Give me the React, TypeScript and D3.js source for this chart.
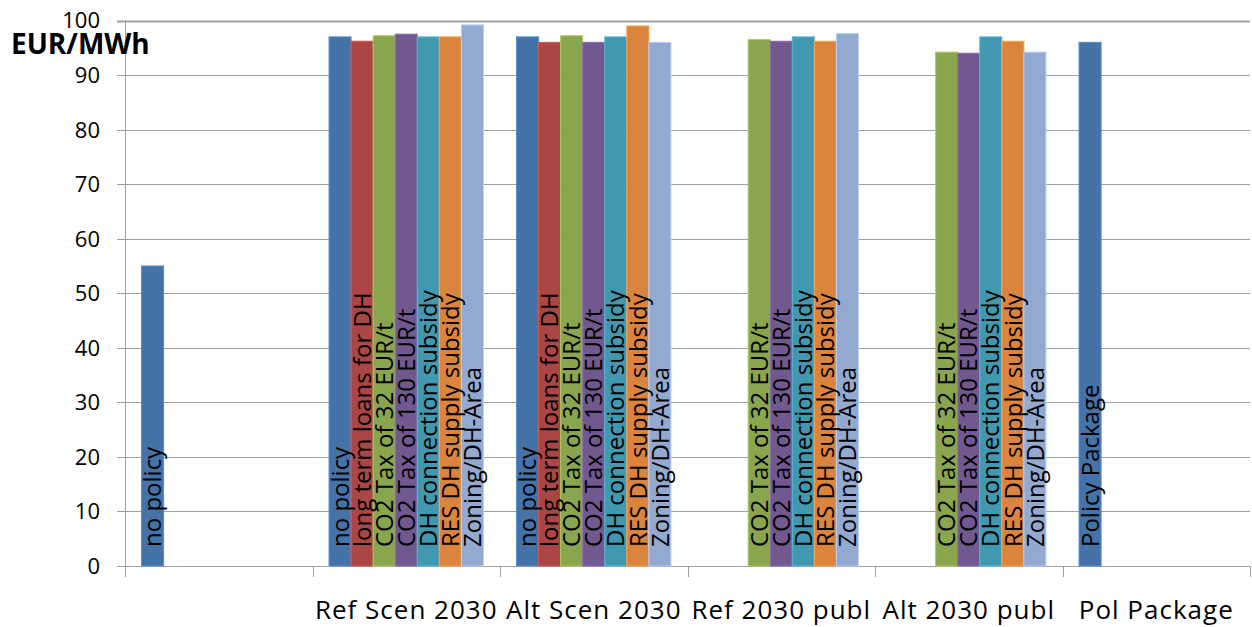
import React from "react";
import * as d3 from "d3";

const categories = ["", "Ref Scen 2030", "Alt Scen 2030", "Ref 2030 publ", "Alt 2030 publ", "Pol Package"];

const seriesNames = [
  "no policy",
  "long term loans for DH",
  "CO2 Tax of 32 EUR/t",
  "CO2 Tax of 130 EUR/t",
  "DH connection subsidy",
  "RES DH supply subsidy",
  "Zoning/DH-Area",
];

const noPolicy = [55, 97, 97, null, null, 96];
const longTermLoans = [null, 96.2, 96.0, null, null, null];
const co2Tax32 = [null, 97.2, 97.2, 96.5, 94.2, null];
const co2Tax130 = [null, 97.5, 96.0, 96.2, 94.0, null];
const dhConnection = [null, 97.0, 97.0, 97.0, 97.0, null];
const resDhSupply = [null, 97.0, 99.0, 96.2, 96.2, null];
const zoningDhArea = [null, 99.2, 96.0, 97.6, 94.2, null];

const seriesValues: (number | null)[][] = [
  noPolicy,
  longTermLoans,
  co2Tax32,
  co2Tax130,
  dhConnection,
  resDhSupply,
  zoningDhArea,
];

const polPackageCategory = "Pol Package";
const polPackageBarLabel = "Policy Package";

const yTicks = [0, 10, 20, 30, 40, 50, 60, 70, 80, 90, 100];
const yUnit = "EUR/MWh";

const colors = ["#4572A7", "#AA4643", "#89A54E", "#71588F", "#4198AF", "#DB843D", "#93A9CF"];

const W = 1252;
const H = 627;
const left = 125;
const right = 1250;
const top = 20.5;
const bottom = 566;
const FONT = "'Open Sans', 'Liberation Sans', sans-serif";

export default function App() {
  const x0 = d3.scaleBand<string>().domain(categories.map((c, i) => String(i))).range([left, right]).paddingInner(0).paddingOuter(0);
  const x1 = d3
    .scaleBand<string>()
    .domain(seriesNames)
    .range([0, x0.bandwidth()])
    .paddingInner(0)
    .paddingOuter(0.75);
  const y = d3.scaleLinear().domain([0, 100]).range([bottom, top]);

  const bw = x1.bandwidth();
  const boundaries = d3.range(categories.length + 1).map((i) => left + i * x0.step());

  return (
    <svg width={W} height={H} style={{ position: "absolute", left: 0, top: 0, background: "#fff" }} fontFamily={FONT}>
      {/* gridlines */}
      {yTicks.map((t) => (
        <line
          key={"g" + t}
          x1={left - 8}
          x2={right}
          y1={Math.round(y(t)) + 0.5}
          y2={Math.round(y(t)) + 0.5}
          stroke="#A0A0A0"
          strokeWidth={t === 100 ? 2 : 1}
        />
      ))}
      {/* y axis */}
      <line x1={left + 0.5} x2={left + 0.5} y1={top} y2={bottom + 11} stroke="#A0A0A0" />
      {/* x axis ticks */}
      {boundaries.map((b, i) => (
        <line key={"xt" + i} x1={Math.round(b) + 0.5} x2={Math.round(b) + 0.5} y1={bottom} y2={bottom + 11} stroke="#A0A0A0" />
      ))}
      {/* bars */}
      {categories.map((c, ci) =>
        seriesNames.map((s, si) => {
          const v = seriesValues[si][ci];
          if (v == null) return null;
          const bx = (x0(String(ci)) as number) + (x1(s) as number);
          const by = y(v);
          return (
            <rect
              key={ci + "-" + si}
              x={bx}
              y={by}
              width={bw}
              height={bottom - by}
              fill={colors[si]}
              stroke={d3.color(colors[si])!.brighter(0.6).formatHex()}
              strokeWidth={1}
            />
          );
        })
      )}
      {/* bar labels */}
      {categories.map((c, ci) =>
        seriesNames.map((s, si) => {
          const v = seriesValues[si][ci];
          if (v == null) return null;
          const cx = (x0(String(ci)) as number) + (x1(s) as number) + bw / 2;
          const label = c === polPackageCategory ? polPackageBarLabel : s;
          return (
            <text
              key={"l" + ci + "-" + si}
              transform={`translate(${cx},${bottom - 19}) rotate(-90)`}
              dy="0.36em"
              fontSize={24}
              fill="#000"
            >
              {label}
            </text>
          );
        })
      )}
      {/* y tick labels */}
      {yTicks.map((t) => (
        <text key={"yt" + t} x={100} y={y(t)} dy="0.36em" textAnchor="end" fontSize={22} fill="#000">
          {t}
        </text>
      ))}
      {/* unit */}
      <text x={11} y={54} fontSize={28} fontWeight="bold" fill="#000">
        {yUnit}
      </text>
      {/* category labels */}
      {categories.map((c, ci) => (
        <text
          key={"c" + ci}
          x={(x0(String(ci)) as number) + x0.bandwidth() / 2}
          y={619}
          textAnchor="middle"
          fontSize={26}
          letterSpacing={1}
          fill="#000"
        >
          {c}
        </text>
      ))}
    </svg>
  );
}
